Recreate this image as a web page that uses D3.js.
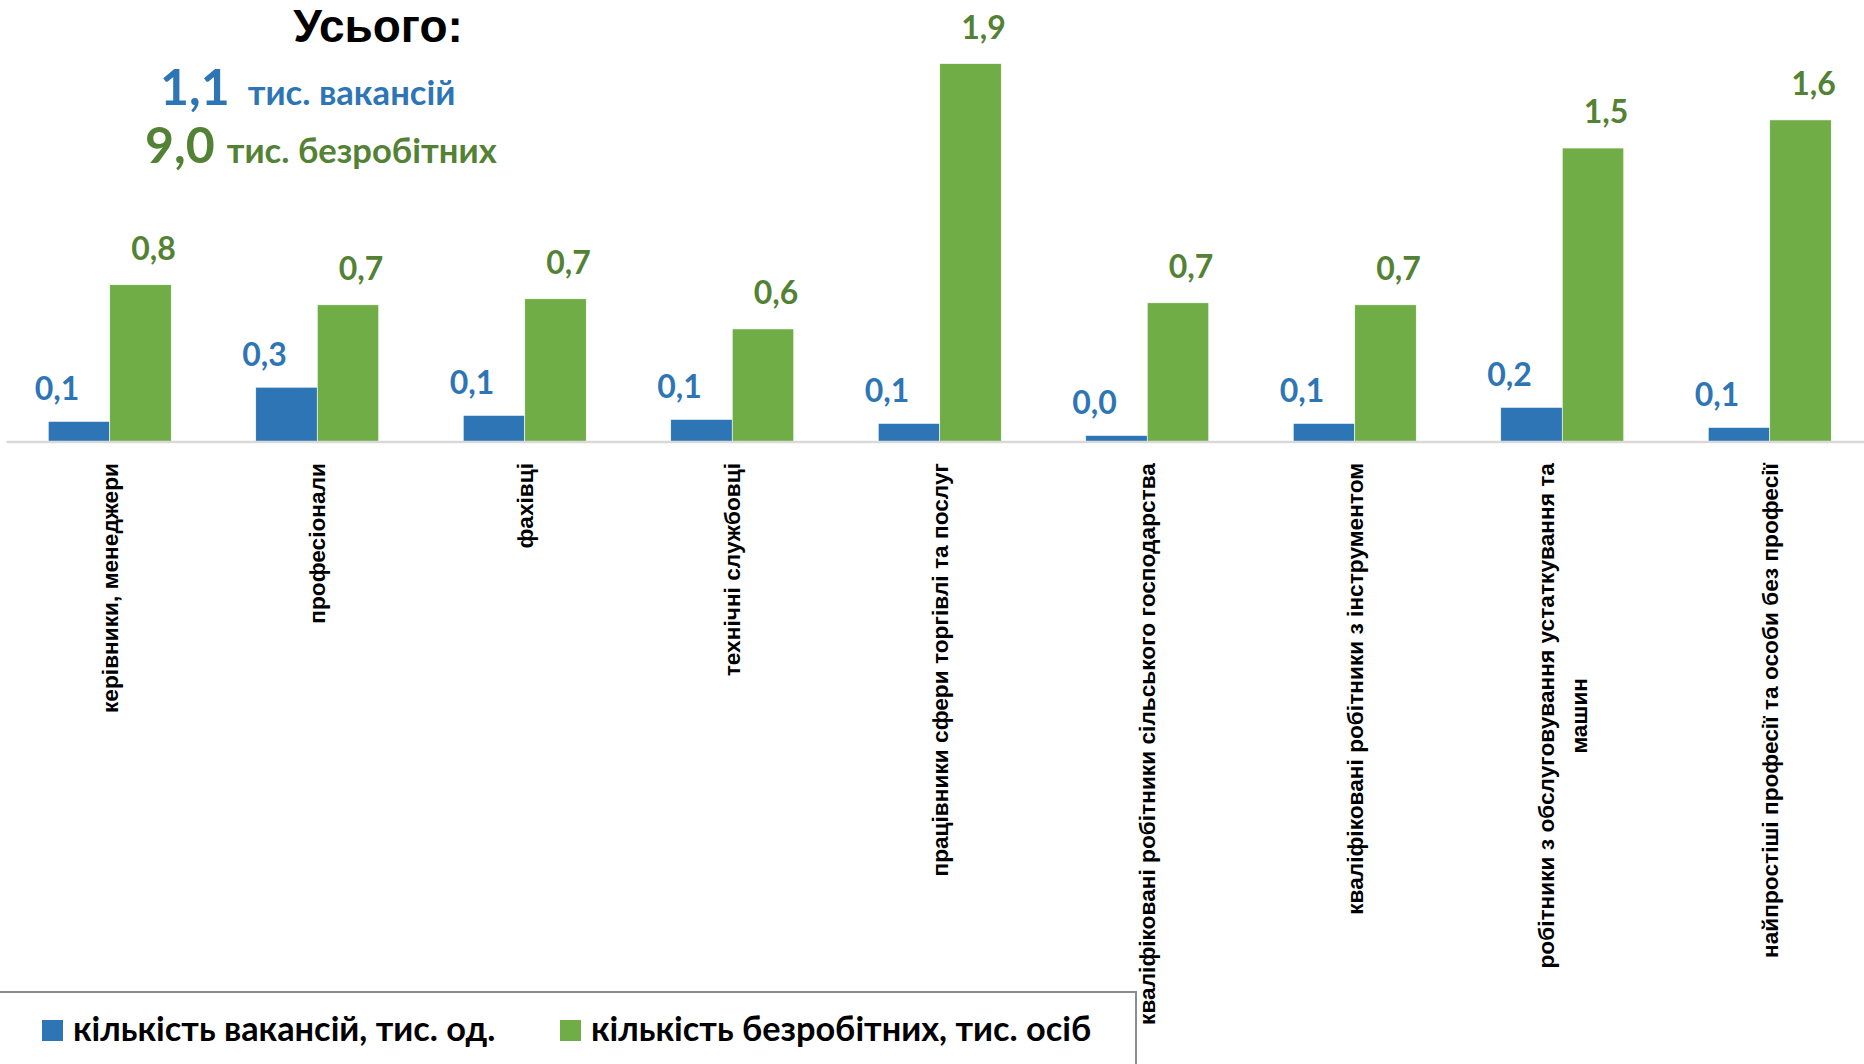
<!DOCTYPE html>
<html lang="uk">
<head>
<meta charset="utf-8">
<script src="https://cdnjs.cloudflare.com/ajax/libs/d3/7.9.0/d3.min.js"></script>
<style>
  html, body { margin: 0; padding: 0; background: #fff; }
  svg { display: block; }
</style>
</head>
<body>
<div id="chart"></div>
<script>
// Професійні групи (підписи по осі X; "\n" — перенос рядка)
const CATEGORIES = [
  "керівники, менеджери",
  "професіонали",
  "фахівці",
  "технічні службовці",
  "працівники сфери торгівлі та послуг",
  "кваліфіковані робітники сільського господарства",
  "кваліфіковані робітники з інструментом",
  "робітники з обслуговування устаткування та\nмашин",
  "найпростіші професії та особи без професії"
];

// кількість вакансій, тис. од.
const VACANCIES = [0.10, 0.27, 0.13, 0.11, 0.09, 0.03, 0.09, 0.17, 0.07];
// кількість безробітних, тис. осіб
const UNEMPLOYED = [0.78, 0.68, 0.71, 0.56, 1.88, 0.69, 0.68, 1.46, 1.60];

const SERIES_NAMES = ["кількість вакансій, тис. од.", "кількість безробітних, тис. осіб"];
const TOTAL_TITLE = "Усього:";
const TOTAL_UNITS = ["тис. вакансій", "тис. безробітних"];

const W = 1864, H = 1064;
const BAR_COLORS  = ["#2E75B6", "#70AD47"];
const TEXT_COLORS = ["#2E75B6", "#548235"];
const LABEL_FONT = "Lato, 'Open Sans', sans-serif";
const AXIS_FONT  = "'Liberation Sans', Arial, sans-serif";

const locale = d3.formatLocale({ decimal: ",", thousands: " ", grouping: [3], currency: ["", ""] });
const fmt = locale.format(".1f");

const svg = d3.select("#chart").append("svg")
  .attr("width", W).attr("height", H)
  .attr("viewBox", `0 0 ${W} ${H}`);

const baseY = 441.5;
const y = d3.scaleLinear().domain([0, 2]).range([baseY, baseY - 402]);

const x0 = d3.scaleBand().domain(CATEGORIES).range([6, 1873.5]).padding(0);
const x1 = d3.scaleBand().domain([0, 1]).range([0, x0.bandwidth()])
  .paddingInner(0).paddingOuter(0.687);

const rows = CATEGORIES.map((c, i) => ({ cat: c, vals: [VACANCIES[i], UNEMPLOYED[i]] }));

// --- стовпчики ---
const groups = svg.append("g").selectAll("g.grp")
  .data(rows).join("g")
  .attr("class", "grp")
  .attr("transform", d => `translate(${x0(d.cat)},0)`);

groups.selectAll("rect")
  .data(d => d.vals.map((v, s) => ({ v, s })))
  .join("rect")
  .attr("x", d => x1(d.s))
  .attr("y", d => y(d.v))
  .attr("width", x1.bandwidth())
  .attr("height", d => baseY - y(d.v))
  .attr("fill", d => BAR_COLORS[d.s])
  .attr("stroke", "#ffffff")
  .attr("stroke-width", 0.6);

// підписи значень (зсунуті як в оригіналі: сині — ліворуч, зелені — праворуч)
const LABEL_SHIFT = [-22, 13];
const LABEL_GAP = [21, 25];
groups.selectAll("text.val")
  .data(d => d.vals.map((v, s) => ({ v, s })))
  .join("text")
  .attr("class", "val")
  .attr("x", d => x1(d.s) + x1.bandwidth() / 2 + LABEL_SHIFT[d.s])
  .attr("y", d => y(d.v) - LABEL_GAP[d.s])
  .attr("text-anchor", "middle")
  .attr("font-family", LABEL_FONT)
  .attr("font-weight", 700)
  .attr("font-size", 32)
  .attr("fill", d => TEXT_COLORS[d.s])
  .text(d => fmt(d.v));

// --- вісь X ---
const axis = svg.append("g")
  .attr("transform", `translate(0,${baseY})`)
  .call(d3.axisBottom(x0).tickSize(0).tickSizeOuter(0));

axis.select(".domain")
  .attr("stroke", "#d9d9d9")
  .attr("stroke-width", 2.6);

axis.selectAll(".tick text").each(function (d) {
  const t = d3.select(this);
  const lines = d.split("\n");
  t.text(null)
    .attr("transform", "rotate(-90)")
    .attr("x", -21.5)
    .attr("y", 0)
    .attr("dy", null)
    .attr("text-anchor", "end")
    .attr("font-family", AXIS_FONT)
    .attr("font-weight", 700)
    .attr("font-size", 22.7)
    .attr("fill", "#000");
  const lh = 33;
  const first = 8 - (lines.length - 1) * lh / 2;
  lines.forEach((ln, k) => {
    t.append("tspan")
      .attr("x", -21.5)
      .attr("y", first + k * lh)
      .attr("text-anchor", k === 0 ? "end" : "middle")
      .text(ln);
  });
  // другий рядок центрується відносно першого
  if (lines.length > 1) {
    const len = t.select("tspan").node().getComputedTextLength();
    t.selectAll("tspan").filter((_, k) => k > 0).attr("x", -21.5 - len / 2);
  }
});

// --- блок "Усього" ---
svg.append("text")
  .attr("x", 378).attr("y", 42)
  .attr("text-anchor", "middle")
  .attr("font-family", "'Liberation Sans', Arial, sans-serif")
  .attr("font-weight", 700)
  .attr("font-size", 46)
  .attr("fill", "#000")
  .text(TOTAL_TITLE);

const totals = [d3.sum(VACANCIES), d3.sum(UNEMPLOYED)];
const totalPos = [{ x: 160, y: 105, gap: 18 }, { x: 145, y: 163, gap: 12 }];
totals.forEach((v, s) => {
  const t = svg.append("text")
    .attr("x", totalPos[s].x).attr("y", totalPos[s].y)
    .attr("font-family", LABEL_FONT)
    .attr("font-weight", 700)
    .attr("fill", TEXT_COLORS[s]);
  t.append("tspan").attr("font-size", 50).text(fmt(v));
  t.append("tspan").attr("font-size", 34.6).attr("dx", totalPos[s].gap).text(TOTAL_UNITS[s]);
});

// --- легенда ---
svg.append("path")
  .attr("d", "M-2,992H1136V1070")
  .attr("fill", "none")
  .attr("stroke", "#8c8c8c")
  .attr("stroke-width", 2);

const legendX = [42, 560];
SERIES_NAMES.forEach((name, s) => {
  svg.append("rect")
    .attr("x", legendX[s]).attr("y", 1020)
    .attr("width", 21).attr("height", 21)
    .attr("fill", BAR_COLORS[s]);
  svg.append("text")
    .attr("x", legendX[s] + 31).attr("y", 1041)
    .attr("font-family", LABEL_FONT)
    .attr("font-weight", 700)
    .attr("font-size", 34.3)
    .attr("fill", "#000")
    .text(name);
});
</script>
</body>
</html>
